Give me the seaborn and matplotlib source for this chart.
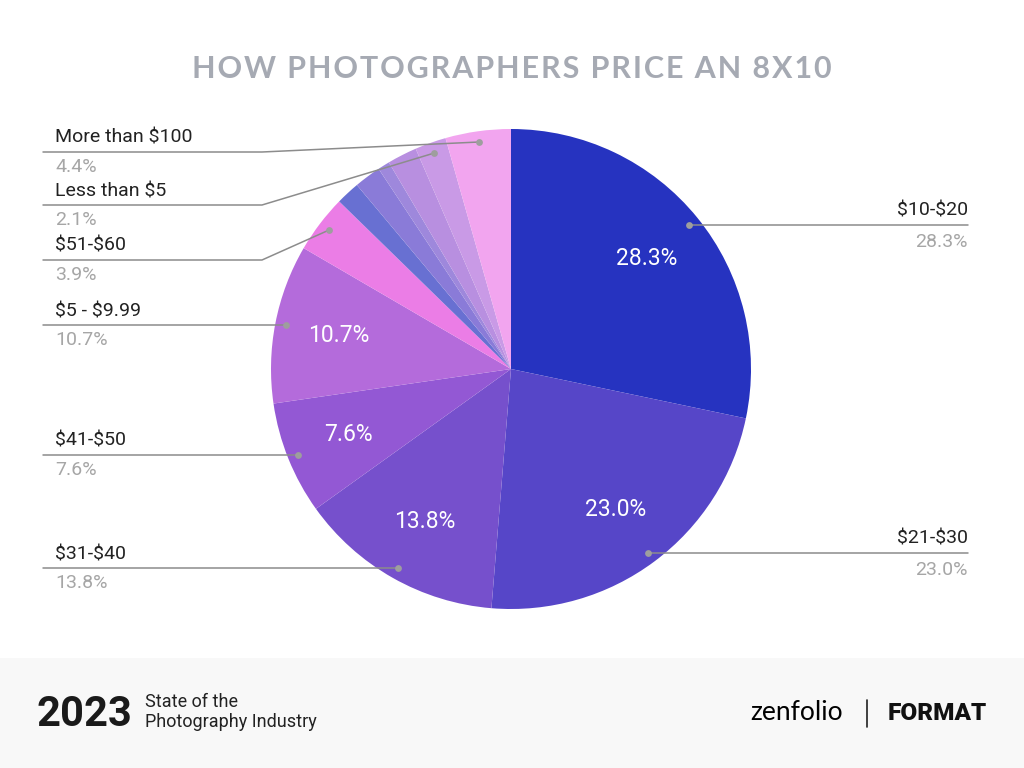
import numpy as np
import matplotlib
matplotlib.use("Agg")
import matplotlib.pyplot as plt
from matplotlib.patches import Rectangle
import seaborn as sns

# Price buckets, clockwise from 12 o'clock
categories = ['$10-$20', '$21-$30', '$31-$40', '$41-$50', '$5 - $9.99', '$51-$60',
              '$61-$70', '$71-$80', '$81-$90', '$91-$100', 'Less than $5', 'More than $100']
shares = [28.3, 23.0, 13.8, 7.6, 10.7, 3.9, 1.6, 1.8, 0.8, 2.0, 2.1, 4.4]
colors = ['#2633c0', '#5646c8', '#7650cc', '#9358d4', '#b46bdb', '#eb7de6',
          '#6870d2', '#8a7bd8', '#9e88dc', '#b88fe0', '#c99ae6', '#f2a5ef']

# which slices get an outside label: side, y of leader line in pixels (None = follow dot)
callouts = {
    '$10-$20': ('right', None),
    '$21-$30': ('right', None),
    '$31-$40': ('left', None),
    '$41-$50': ('left', None),
    '$5 - $9.99': ('left', None),
    '$51-$60': ('left', 260),
    'Less than $5': ('left', 205),
    'More than $100': ('left', 152),
}

W, H = 1024, 768
sns.set_theme(style='white')
plt.rcParams['font.family'] = ['Roboto', 'DejaVu Sans']
plt.rcParams['text.parse_math'] = False

fig = plt.figure(figsize=(W / 100, H / 100), dpi=100)
ax = fig.add_axes([0, 0, 1, 1])

cx, cy, R = 511, H - 369, 240
wedges, texts, autotexts = ax.pie(
    shares, colors=colors, startangle=90, counterclock=False,
    center=(cx, cy), radius=R, pctdistance=0.73,
    autopct=lambda p: f'{p:.1f}%' if p > 5 else '',
    wedgeprops=dict(linewidth=0), textprops=dict(color='white', fontsize=16.5))

ax.set_xlim(0, W)
ax.set_ylim(0, H)
ax.set_aspect('auto')
ax.axis('off')

line_c = '#8c8c8c'
dot_c = '#9e9e9e'
for w, cat, val in zip(wedges, categories, shares):
    if cat not in callouts:
        continue
    side, ly = callouts[cat]
    mid = np.deg2rad((w.theta1 + w.theta2) / 2)
    dx = cx + 0.955 * R * np.cos(mid)
    dy = cy + 0.955 * R * np.sin(mid)
    y = dy if ly is None else H - ly
    if side == 'left':
        if ly is None:
            ax.plot([43, dx], [y, y], color=line_c, lw=1.1, zorder=3)
        else:
            ax.plot([43, 262, dx], [y, y, dy], color=line_c, lw=1.1, zorder=3)
        ax.text(55, y + 14, cat, ha='left', va='center', fontsize=14, color='#222222')
        ax.text(55, y - 15, f'{val:.1f}%', ha='left', va='center', fontsize=14, color='#a6a6a6')
    else:
        ax.plot([dx, 968], [y, y], color=line_c, lw=1.1, zorder=3)
        ax.text(968, y + 14, cat, ha='right', va='center', fontsize=14, color='#222222')
        ax.text(968, y - 17, f'{val:.1f}%', ha='right', va='center', fontsize=14, color='#a6a6a6')
    ax.scatter([dx], [dy], s=24, color=dot_c, zorder=4, linewidths=0)

title = 'HOW PHOTOGRAPHERS PRICE AN 8X10'
ax.text(W / 2, H - 69, '\u200a'.join(title), ha='center', va='center',
        fontsize=22, fontweight='bold', color='#a6aab3', family=['Lato', 'DejaVu Sans'])

# footer band
ax.add_patch(Rectangle((0, 0), W, H - 658, color='#f8f8f8', lw=0, zorder=0))
ax.text(37, H - 714, '2023', ha='left', va='center', fontsize=30, fontweight='bold', color='#1a1a1a')
ax.text(145, H - 702, 'State of the', ha='left', va='center', fontsize=13, color='#222222')
ax.text(145, H - 722, 'Photography Industry', ha='left', va='center', fontsize=13, color='#222222')
ax.text(797, H - 713, 'zenfolio', ha='center', va='center', fontsize=19, fontweight='normal',
        color='#000000', family=['Lato', 'DejaVu Sans'])
ax.plot([867, 867], [H - 700, H - 727], color='#222222', lw=1.2)
ax.text(987, H - 713, 'FORMAT', ha='right', va='center', fontsize=17.5, fontweight='black',
        color='#111111', family=['Roboto', 'DejaVu Sans'])

fig.savefig('out.png', dpi=100)
